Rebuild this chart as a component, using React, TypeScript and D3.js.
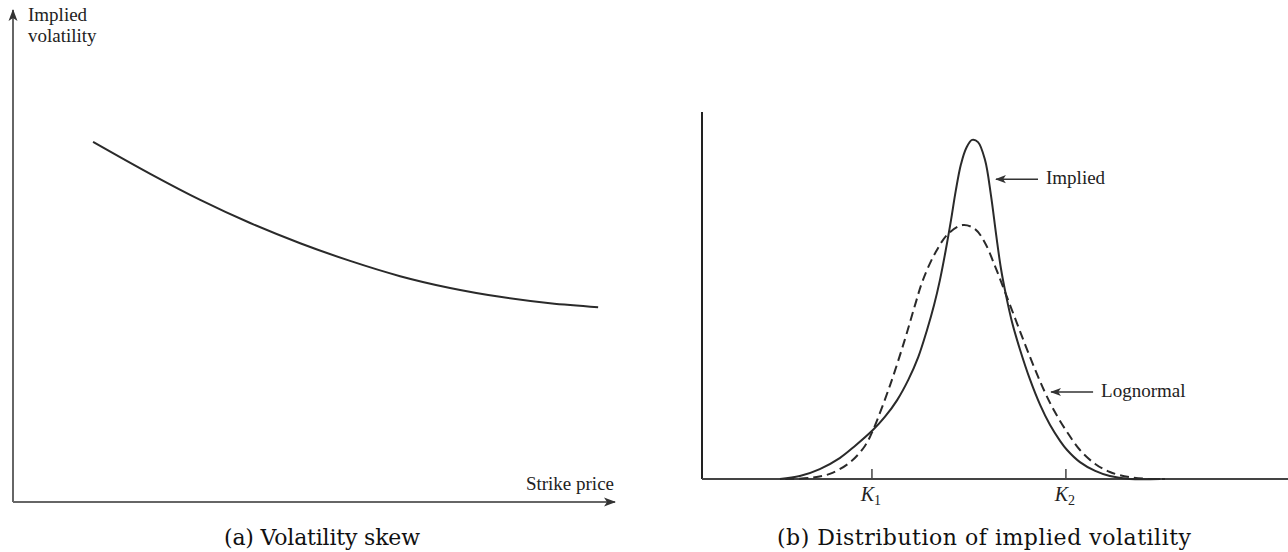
import React from "react";
import * as d3 from "d3";

// Panel (a): volatility skew (strike units, implied vol units)
const skewStrike = [13.3, 22.8, 31.1, 39.4, 47.7, 56.0, 64.3, 72.6, 80.9, 89.2, 97.2];
const skewVol = [73.2, 66.7, 61.4, 56.7, 52.6, 49.0, 45.9, 43.5, 41.7, 40.4, 39.6];

// Panel (b): implied distribution (solid)
const impliedX = [13.3, 16.7, 20.1, 23.5, 26.1, 29.2, 31.2, 33.3, 35.2, 36.9, 38.4, 39.6, 40.6, 41.6, 42.5, 43.3, 44.2, 45.1, 46.1, 47.1, 48.3, 49.3, 50.2, 51.0, 51.9, 52.9, 54.3, 56.0, 57.7, 59.4, 61.1, 62.3, 64.5, 67.1, 69.6, 73.0, 78.2];
const impliedY = [0, 0.8, 2.7, 5.7, 9.0, 13.4, 16.9, 21.5, 27.0, 33.2, 40.6, 47.4, 54.2, 62.4, 70.6, 78.5, 85.8, 90.2, 92.4, 91.8, 86.9, 77.4, 66.5, 57.5, 49.9, 42.8, 35.1, 27.0, 20.2, 14.7, 10.4, 7.9, 4.6, 2.2, 0.8, 0, 0];

// Panel (b): lognormal distribution (dashed)
const lognormX = [14.2, 18.4, 21.8, 25.3, 27.8, 29.2, 32.1, 34.6, 36.3, 37.7, 39.8, 42.0, 44.5, 46.6, 48.3, 50.0, 51.7, 53.4, 55.1, 56.8, 58.5, 60.2, 62.3, 64.5, 67.1, 69.6, 73.0, 76.5, 79.0];
const lognormY = [0, 0.3, 1.4, 4.6, 9.0, 13.4, 25.6, 37.9, 47.1, 54.2, 61.6, 66.8, 69.2, 68.1, 64.3, 58.0, 51.0, 43.9, 36.8, 30.0, 23.7, 18.3, 12.8, 7.9, 4.1, 1.9, 0.5, 0, 0];

const strikeTicks = [29.0, 62.1];
const strikeTickLabels = ["K", "K"];
const strikeTickSubs = ["1", "2"];

const annotations = [
  { label: "Implied", x: 50.0, y: 81.7 },
  { label: "Lognormal", x: 59.4, y: 23.7 },
];

const captions = ["(a) Volatility skew", "(b) Distribution of implied volatility"];

export default function App() {
  const W = 1288;
  const H = 552;

  // panel a scales
  const ax = d3.scaleLinear().domain([0, 100]).range([13, 615]);
  const ay = d3.scaleLinear().domain([0, 100]).range([502, 10]);
  // panel b scales
  const bx = d3.scaleLinear().domain([0, 100]).range([702, 1288]);
  const by = d3.scaleLinear().domain([0, 100]).range([479, 112]);

  const skewPts: [number, number][] = skewStrike.map((s, i) => [s, skewVol[i]]);
  const impPts: [number, number][] = impliedX.map((s, i) => [s, impliedY[i]]);
  const logPts: [number, number][] = lognormX.map((s, i) => [s, lognormY[i]]);

  const lineA = d3
    .line<[number, number]>()
    .x((d) => ax(d[0]))
    .y((d) => ay(d[1]))
    .curve(d3.curveCatmullRom.alpha(0.5));
  const lineB = d3
    .line<[number, number]>()
    .x((d) => bx(d[0]))
    .y((d) => by(d[1]))
    .curve(d3.curveCatmullRom.alpha(0.5));

  const labelFont = "'Liberation Serif', 'Times New Roman', serif";
  const capFont = "'DejaVu Serif', serif";

  return (
    <svg
      width={W}
      height={H}
      style={{ position: "absolute", left: 0, top: 0, background: "#fff" }}
    >
      <defs>
        <marker
          id="axArrow"
          viewBox="0 0 12 10"
          refX="11"
          refY="5"
          markerWidth="12"
          markerHeight="10"
          markerUnits="userSpaceOnUse"
          orient="auto"
        >
          <path d="M0,0.5 L12,5 L0,9.5 L3,5 Z" fill="#333" />
        </marker>
        <marker
          id="lblArrow"
          viewBox="0 0 12 10"
          refX="11"
          refY="5"
          markerWidth="12"
          markerHeight="9"
          markerUnits="userSpaceOnUse"
          orient="auto"
        >
          <path d="M0,0.5 L12,5 L0,9.5 L3,5 Z" fill="#333" />
        </marker>
      </defs>

      {/* Panel (a) */}
      <g>
        <line
          x1={ax(0)}
          y1={ay(0)}
          x2={ax(0)}
          y2={ay(100)}
          stroke="#666"
          strokeWidth={2}
          markerEnd="url(#axArrow)"
        />
        <line
          x1={ax(0)}
          y1={ay(0)}
          x2={ax(100)}
          y2={ay(0)}
          stroke="#666"
          strokeWidth={2}
          markerEnd="url(#axArrow)"
        />
        <text x={ax(0) + 15} y={21} fontFamily={labelFont} fontSize={19} fill="#222">
          Implied
        </text>
        <text x={ax(0) + 15} y={42} fontFamily={labelFont} fontSize={19} fill="#222">
          volatility
        </text>
        <text
          x={ax(100) - 1}
          y={ay(0) - 12}
          textAnchor="end"
          fontFamily={labelFont}
          fontSize={19}
          fill="#222"
        >
          Strike price
        </text>
        <path d={lineA(skewPts) || ""} fill="none" stroke="#2a2a2a" strokeWidth={2} />
      </g>

      {/* Panel (b) */}
      <g>
        <line x1={bx(0)} y1={by(0)} x2={bx(0)} y2={by(100)} stroke="#222" strokeWidth={2} />
        <line x1={bx(0)} y1={by(0)} x2={bx(100)} y2={by(0)} stroke="#444" strokeWidth={2} />
        {strikeTicks.map((t, i) => (
          <g key={i}>
            <line x1={bx(t)} y1={by(0)} x2={bx(t)} y2={by(0) - 10} stroke="#444" strokeWidth={1.5} />
            <text
              x={bx(t) - 1}
              y={by(0) + 22}
              textAnchor="middle"
              fontFamily={labelFont}
              fontStyle="italic"
              fontSize={20}
              fill="#222"
            >
              {strikeTickLabels[i]}
              <tspan dy={4} fontSize={14} fontStyle="normal">
                {strikeTickSubs[i]}
              </tspan>
            </text>
          </g>
        ))}
        <path
          d={lineB(logPts) || ""}
          fill="none"
          stroke="#2a2a2a"
          strokeWidth={2}
          strokeDasharray="9,5"
        />
        <path d={lineB(impPts) || ""} fill="none" stroke="#2a2a2a" strokeWidth={2} />
        {annotations.map((a, i) => (
          <g key={i}>
            <line
              x1={bx(a.x) + 43}
              y1={by(a.y)}
              x2={bx(a.x) + 1}
              y2={by(a.y)}
              stroke="#333"
              strokeWidth={1.5}
              markerEnd="url(#lblArrow)"
            />
            <text
              x={bx(a.x) + 51}
              y={by(a.y) + 5}
              fontFamily={labelFont}
              fontSize={19}
              fill="#222"
            >
              {a.label}
            </text>
          </g>
        ))}
      </g>

      {/* Captions */}
      <text
        x={322}
        y={545}
        textAnchor="middle"
        fontFamily={capFont}
        fontSize={22}
        fill="#111"
        textLength={196}
        lengthAdjust="spacing"
      >
        {captions[0]}
      </text>
      <text
        x={984}
        y={545}
        textAnchor="middle"
        fontFamily={capFont}
        fontSize={22}
        fill="#111"
        textLength={414}
        lengthAdjust="spacing"
      >
        {captions[1]}
      </text>
    </svg>
  );
}
